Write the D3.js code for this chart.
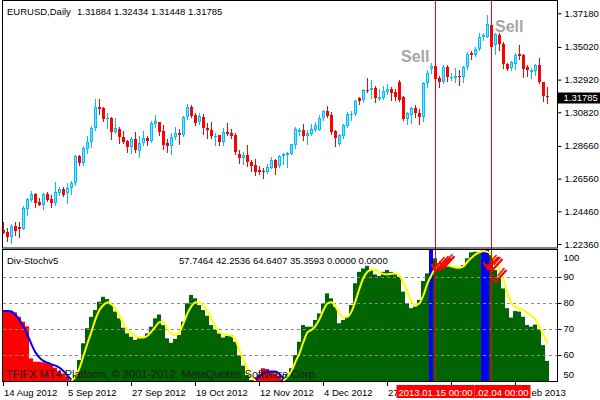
<!DOCTYPE html>
<html><head><meta charset="utf-8">
<script src="https://cdn.jsdelivr.net/npm/d3@7"></script>
<style>html,body{margin:0;padding:0;background:#fff;}svg{display:block;font-family:"Liberation Sans",Arial,sans-serif;}</style>
</head><body><div id="chart"></div>
<script>
// ---- price data (EURUSD daily, bars 0..136) ----
const openP = [1.2326,1.2313,1.2283,1.2352,1.2347,1.2334,1.2463,1.2519,1.2557,1.2506,1.2488,1.2557,1.2527,1.2497,1.2562,1.2591,1.2562,1.2596,1.2626,1.2801,
1.2754,1.2848,1.2889,1.2983,1.3118,1.3109,1.3040,1.3045,1.2955,1.2972,1.2921,1.2895,1.2861,1.2908,1.2835,1.2883,1.2917,1.2895,1.3006,1.3019,
1.2963,1.2883,1.2865,1.2921,1.2951,1.2938,1.3049,1.3118,1.3066,1.3017,1.3051,1.2983,1.2970,1.2927,1.2936,1.2893,1.2953,1.2949,1.2936,1.2812,
1.2786,1.2807,1.2764,1.2743,1.2713,1.2705,1.2696,1.2726,1.2773,1.2739,1.2803,1.2807,1.2816,1.2872,1.2953,1.2966,1.2931,1.2944,1.2970,1.2970,
1.3043,1.3090,1.3064,1.2961,1.2880,1.2931,1.2996,1.3064,1.3069,1.3171,1.3159,1.3227,1.3223,1.3239,1.3167,1.3171,1.3214,1.3231,1.3210,1.3276,
1.3182,1.3040,1.3066,1.3109,1.3079,1.3053,1.3268,1.3358,1.3379,1.3302,1.3276,1.3370,1.3302,1.3302,1.3315,1.3310,1.3370,1.3464,1.3448,1.3486,
1.3567,1.3567,1.3642,1.3514,1.3578,1.3518,1.3390,1.3364,1.3394,1.3454,1.3449,1.3372,1.3342,1.3347,1.3385,1.3274,1.31884];
const highP = [1.2377,1.2339,1.2364,1.2377,1.2377,1.2480,1.2531,1.2578,1.2565,1.2531,1.2565,1.2570,1.2553,1.2634,1.2604,1.2604,1.2626,1.2642,1.2806,1.2809,
1.2865,1.2929,1.2994,1.3165,1.3165,1.3114,1.3079,1.3049,1.3045,1.2985,1.2963,1.2904,1.2925,1.2955,1.2929,1.2960,1.2929,1.3024,1.3066,1.3022,
1.2998,1.2908,1.2951,1.2989,1.2972,1.3058,1.3135,1.3127,1.3075,1.3077,1.3069,1.3013,1.3021,1.2949,1.2938,1.2979,1.3013,1.2974,1.2949,1.2838,
1.2829,1.2872,1.2777,1.2782,1.2735,1.2722,1.2752,1.2795,1.2782,1.2807,1.2820,1.2825,1.2880,1.2987,1.2979,1.3005,1.2966,1.3005,1.3021,1.3064,
1.3098,1.3120,1.3082,1.2966,1.2940,1.3005,1.3085,1.3090,1.3162,1.3180,1.3231,1.3300,1.3291,1.3248,1.3231,1.3248,1.3265,1.3244,1.3231,1.3289,
1.3185,1.3083,1.3114,1.3130,1.3101,1.3276,1.3353,1.3396,1.3396,1.3315,1.3387,1.3387,1.3332,1.3366,1.3353,1.3379,1.3469,1.3477,1.3499,1.3589,
1.3589,1.3706,1.3650,1.3589,1.3589,1.3535,1.3396,1.3411,1.3464,1.3514,1.3454,1.3385,1.3368,1.3390,1.3428,1.3278,1.32434];
const lowP = [1.2305,1.2257,1.2244,1.2296,1.2283,1.2332,1.2424,1.2514,1.2472,1.2485,1.2459,1.2514,1.2476,1.2485,1.2553,1.2544,1.2497,1.2557,1.2617,1.2745,
1.2745,1.2822,1.2861,1.2970,1.3073,1.3024,1.2981,1.2912,1.2947,1.2883,1.2883,1.2827,1.2818,1.2827,1.2797,1.2874,1.2870,1.2891,1.2985,1.2934,
1.2848,1.2827,1.2814,1.2912,1.2878,1.2929,1.3040,1.3049,1.2998,1.3008,1.2944,1.2915,1.2918,1.2872,1.2872,1.2872,1.2938,1.2915,1.2812,1.2756,
1.2752,1.2735,1.2705,1.2679,1.2687,1.2658,1.2694,1.2722,1.2684,1.2730,1.2748,1.2730,1.2812,1.2854,1.2936,1.2906,1.2876,1.2936,1.2962,1.2966,
1.3034,1.3051,1.2944,1.2867,1.2872,1.2918,1.2987,1.3034,1.3064,1.3137,1.3150,1.3214,1.3175,1.3150,1.3162,1.3167,1.3201,1.3159,1.3159,1.3154,
1.3035,1.3006,1.3011,1.3053,1.3006,1.3028,1.3246,1.3332,1.3246,1.3246,1.3272,1.3281,1.3289,1.3276,1.3255,1.3276,1.3361,1.3422,1.3443,1.3481,
1.3546,1.3567,1.3500,1.3454,1.3482,1.3364,1.3353,1.3353,1.3360,1.3424,1.3308,1.3317,1.3304,1.3321,1.3270,1.3154,1.31448];
const closeP = [1.2309,1.2283,1.2352,1.2321,1.2334,1.2467,1.2525,1.2557,1.2501,1.2488,1.2557,1.2519,1.2497,1.2570,1.2591,1.2553,1.2596,1.2630,1.2801,1.2754,
1.2852,1.2891,1.2983,1.3116,1.3105,1.3040,1.3045,1.2955,1.2981,1.2921,1.2891,1.2861,1.2908,1.2840,1.2883,1.2917,1.2895,1.3015,1.3028,1.2955,
1.2874,1.2865,1.2921,1.2951,1.2938,1.3049,1.3118,1.3058,1.3011,1.3060,1.2979,1.2966,1.2927,1.2931,1.2893,1.2953,1.2940,1.2931,1.2825,1.2786,
1.2807,1.2764,1.2739,1.2700,1.2700,1.2696,1.2730,1.2773,1.2726,1.2803,1.2816,1.2820,1.2876,1.2974,1.2970,1.2931,1.2949,1.2974,1.3000,1.3043,
1.3090,1.3060,1.2957,1.2918,1.2936,1.3000,1.3069,1.3073,1.3154,1.3154,1.3227,1.3218,1.3239,1.3175,1.3180,1.3218,1.3231,1.3205,1.3180,1.3161,
1.3040,1.3075,1.3109,1.3075,1.3053,1.3268,1.3332,1.3379,1.3297,1.3276,1.3370,1.3310,1.3310,1.3315,1.3306,1.3370,1.3456,1.3448,1.3486,1.3563,
1.3578,1.3647,1.3503,1.3582,1.3520,1.3390,1.3360,1.3403,1.3449,1.3441,1.3360,1.3355,1.3351,1.3385,1.3274,1.3184,1.31785];

// ---- indicator (Div-Stochv5) ----
const redHistA = [77.3,77.3,77,76.4,74.7,72.8,71,58.7,57.4,57.4,57.2,56.8,56.2,55.1,53.8,52.9,51.6,50.3]; // bars 0-17
const redHistB = [51.3,52.6,54.9,54.6,53.6,52.9,52]; // bars 63-69
const greenHistA = [52.3,58.1,64.5,70.3,74.7,77.3,80.5,82.4,81.5,79.5,76.7,74.1,70.5,68.3,67.0,65.8,66.4,66.7,68.3,70.9,
74.1,75.6,71.5,66.4,64.7,66.2,67.7,72.8,79.9,83.1,81.8,79.2,77.3,75.1,71.5,69.6,68.3,66.7,67.4,67.7,65.1,60,55.9,52.3,50.4]; // bars 18-62
const greenHistB = [50.8,52.3,54.9,60,65.1,71.5,70.9,70.9,73.5,76.0,79.9,83.7,81.8,78.6,72.2,73.5,74.7,79.2,87.6,92.0,
93.3,94.3,92.7,91.0,90.4,92.0,92.7,92.0,91.4,90.1,84.4,79.9,78.0,78.6,81.2,88.5,91.4,null,97.2,95.3,
94.3,94.3,94.0,93.6,93.6,94.6,97.2,99.5,99.7,99.7,null,null,98.5,92.7,89.5,85.6,78.0,74.4,76.9,76.7,
74.7,71.5,70.9,71.7,69.6,63.8,57.7]; // bars 70-136
const blueBars = [107,120,121];
const blueBarValue = 100.4;
const blueLineA = [76.9,76.9,76.7,75.4,73.5,70.9,67.7,64.1,61,59,57.7,57,56.4,55.9,55.1,53.8,52,50.4]; // bars 0-17
const blueLineB = [50.4,51.7,53,53.6,53.6,53.6,52.6,51.0,49.7]; // bars 63-71
const yellowA = [50.0,51.7,54.9,59.7,64.5,69,73.8,77.3,79.2,80.3,79.5,77.7,75.1,71.8,69.6,68.3,67.3,66.8,66.7,67.4,
69,70.9,72.6,72.6,70,68.1,67.6,68.7,72.2,76,78.8,80.3,80.3,79,76.9,73.8,70.9,68.7,68,67.7,67.4,65.8,61.5,58.1,54.6,51.7,50.0]; // bars 17-63
const yellowB = [50.0,51.7,53.8,57.4,60.6,65.1,68.7,69.6,71.2,73.8,77.3,79.9,80.3,78.6,76,74.5,74.7,76.7,80.8,85.6,
89.7,92,92.8,92.7,91.8,91.2,91.0,91.3,91.4,90.5,87.6,84,80.5,79.2,79.9,83.1,87.6,90.8,93.3,94.4,
94.6,94.4,94.1,93.7,93.6,94.1,95.9,97.4,98.7,99.5,100,99.7,98.5,95.3,92.7,88.8,83.7,79.9,78.3,78,
77.3,76,75.1,73.5,70.9,67.7,64.6]; // bars 70-136
const levels = [60,70,80,90];
const levelLabels = [100,90,80,70,60,50];
const sellArrows = [[108,92.3],[109,92.7],[110,93.4],[121,93.1],[122,92.3],[123,88.1]];

// ---- axes / labels ----
const priceTicks = [1.37180,1.35020,1.32920,1.30820,1.28660,1.26560,1.24460,1.22360];
// date labels as visible in the chart (the last two are partly covered by the event boxes)
const dateTickIdx = [0,16,32,48,64,80,96,112,128];
const dateTickLabels = ["14 Aug 2012","5 Sep 2012","27 Sep 2012","19 Oct 2012","12 Nov 2012","4 Dec 2012","27","","eb 2013"];
const eventIdx = [108,122];
const eventLabels = ["2013.01.15 00:00",".02.04 00:00"];
const sellLabels = [[99.5,1.3408,"Sell"],[123,1.3601,"Sell"]];
const titleText = "EURUSD,Daily";
const titleValues = "1.31884 1.32434 1.31448 1.31785";
const indName = "Div-Stochv5";
const indValues = "57.7464 42.2536 64.6407 35.3593 0.0000 0.0000";
const copyright = "TFIFX MT4 Platform, \u00A9 2001-2012, MetaQuotes Software Corp.";

const W = 600, H = 400;
const FS = "9.5px";
const svg = d3.select("#chart").append("svg").attr("width", W).attr("height", H);
svg.append("rect").attr("width", W).attr("height", H).attr("fill", "#fff");

const n = closeP.length;
const x = d3.scaleLinear().domain([0, n - 1]).range([3, 3 + 4 * (n - 1)]);
const yP = d3.scaleLinear().domain([1.22103, 1.37906]).range([248, 2]);
const yI = d3.scaleLinear().domain([49.6, 100.4]).range([382, 250]);

const defs = svg.append("defs");
defs.append("clipPath").attr("id", "cm").append("rect").attr("x", 3).attr("y", 1).attr("width", 554).attr("height", 247);
defs.append("clipPath").attr("id", "ci").append("rect").attr("x", 3).attr("y", 250).attr("width", 554).attr("height", 131.5);

// ---- main panel candles ----
const gm = svg.append("g").attr("clip-path", "url(#cm)");
const bull = "#00BFFF", bullFill = "#8fd8ff", bear = "#FF0000";
d3.range(n).forEach(i => {
  const o = openP[i], c = closeP[i], h = highP[i], l = lowP[i];
  const up = c >= o;
  const col = up ? bull : bear;
  const cx = x(i);
  gm.append("line").attr("x1", cx + 0.5).attr("x2", cx + 0.5)
    .attr("y1", Math.round(yP(h))).attr("y2", Math.round(yP(l)) + 1)
    .attr("stroke", col).attr("stroke-width", 1);
  const top = Math.round(yP(Math.max(o, c)));
  const bot = Math.round(yP(Math.min(o, c)));
  const hh = Math.max(bot - top, 1);
  if (up && hh > 2) {
    gm.append("rect").attr("x", cx - 0.5).attr("y", top + 0.5).attr("width", 2).attr("height", hh - 1)
      .attr("fill", bullFill).attr("stroke", bull).attr("stroke-width", 1);
  } else {
    gm.append("rect").attr("x", cx - 1).attr("y", top).attr("width", 3).attr("height", hh).attr("fill", col);
  }
});

// ---- indicator histogram ----
const gi = svg.append("g").attr("clip-path", "url(#ci)");
function bars(vals, start, color) {
  vals.forEach((v, k) => {
    if (v == null) return;
    const i = start + k;
    gi.append("rect").attr("x", x(i) - 2).attr("width", 4)
      .attr("y", yI(v)).attr("height", Math.max(0, yI.range()[0] - yI(v)))
      .attr("fill", color);
  });
}
bars(redHistA, 0, "#FF0000");
bars(redHistB, 63, "#FF0000");
bars(greenHistA, 18, "#006400");
bars(greenHistB, 70, "#006400");
blueBars.forEach(i => {
  gi.append("rect").attr("x", x(i) - 2).attr("width", 4).attr("y", yI(blueBarValue))
    .attr("height", yI.range()[0] - yI(blueBarValue)).attr("fill", "#0000FF");
});

// level lines
levels.forEach(v => {
  gi.append("line").attr("x1", 3).attr("x2", 557).attr("y1", Math.round(yI(v)) + 0.5).attr("y2", Math.round(yI(v)) + 0.5)
    .attr("stroke", "#8a8a8a").attr("stroke-width", 1).attr("stroke-dasharray", "3,3");
});

// signal lines
function sig(vals, start, color) {
  const line = d3.line().x((d, k) => x(start + k) + 0.5).y(d => yI(d)).curve(d3.curveMonotoneX);
  gi.append("path").attr("d", line(vals)).attr("fill", "none").attr("stroke", color).attr("stroke-width", 2);
}
sig(blueLineA, 0, "#0000FF");
sig(blueLineB, 63, "#0000FF");
sig(yellowA, 17, "#FFFF00");
sig(yellowB, 70, "#FFFF00");

// sell arrows in indicator
sellArrows.forEach(([i, v]) => {
  const px = x(i) + 0.5, py = yI(v);
  gi.append("path").attr("d", `M${px - 4},${py - 7} L${px},${py} L${px + 11},${py - 12}`)
    .attr("fill", "none").attr("stroke", "#FF0000").attr("stroke-width", 2.2).attr("stroke-linejoin", "miter");
  gi.append("path").attr("d", `M${px + 2},${py - 6} L${px + 9},${py - 14}`)
    .attr("fill", "none").attr("stroke", "#FF0000").attr("stroke-width", 1.5);
});

// ---- vertical event lines (through both panels) ----
eventIdx.forEach(i => {
  svg.append("line").attr("x1", x(i) + 0.5).attr("x2", x(i) + 0.5).attr("y1", 0).attr("y2", 382)
    .attr("stroke", "#FF0000").attr("stroke-width", 1);
});

// ---- Sell texts ----
sellLabels.forEach(([i, p, t]) => {
  svg.append("text").attr("x", x(i)).attr("y", yP(p)).attr("font-size", "16px").attr("font-weight", "bold")
    .attr("fill", "#a6a6a6").text(t);
});

// ---- frames ----
svg.append("rect").attr("x", 2.5).attr("y", 0.5).attr("width", 555).attr("height", 247.5)
  .attr("fill", "none").attr("stroke", "#000").attr("stroke-width", 1);
svg.append("rect").attr("x", 2.5).attr("y", 249.5).attr("width", 555).attr("height", 132)
  .attr("fill", "none").attr("stroke", "#000").attr("stroke-width", 1);

// ---- right price axis ----
const ax = svg.append("g").attr("transform", "translate(557.5,0)")
  .call(d3.axisRight(yP).tickValues(priceTicks).tickSize(4).tickSizeOuter(0).tickFormat(d3.format(".5f")));
ax.select(".domain").remove();
ax.selectAll("line").attr("stroke", "#000");
ax.selectAll("text").attr("font-size", FS).attr("font-family", "Liberation Sans, Arial, sans-serif").attr("fill", "#000");

// current price box
const last = closeP[n - 1];
svg.append("rect").attr("x", 558).attr("y", Math.round(yP(last)) - 4.5).attr("width", 42).attr("height", 11).attr("fill", "#000");
svg.append("text").attr("x", 563.5).attr("y", Math.round(yP(last)) + 4).attr("font-size", FS).attr("fill", "#fff").text(d3.format(".5f")(last));

// indicator axis
levels.forEach(v => {
  svg.append("line").attr("x1", 557.5).attr("x2", 561.5).attr("y1", Math.round(yI(v)) + 0.5).attr("y2", Math.round(yI(v)) + 0.5).attr("stroke", "#000");
});
levelLabels.forEach(v => {
  const yy = Math.min(375, Math.max(257.5, yI(v)));
  svg.append("text").attr("x", 563.5).attr("y", yy).attr("dy", "0.33em").attr("font-size", FS).attr("fill", "#000").text(v);
});

// ---- date axis ----
dateTickIdx.forEach((i, k) => {
  svg.append("line").attr("x1", x(i) + 0.5).attr("x2", x(i) + 0.5).attr("y1", 382).attr("y2", 386).attr("stroke", "#000");
  const lab = dateTickLabels[k];
  if (!lab) return;
  const lx = (k === dateTickIdx.length - 1) ? x(eventIdx[1]) + 40.5 : x(i) + 1;
  svg.append("text").attr("x", lx).attr("y", 395.5).attr("font-size", FS).attr("fill", "#000").text(lab);
});
// event labels: first box fully visible, second box shows the part right of the first one
{
  const c0 = x(eventIdx[0]) + 0.5, c1 = x(eventIdx[1]) + 0.5;
  svg.append("rect").attr("x", c0 + 39).attr("y", 385).attr("width", (c1 + 39) - (c0 + 39)).attr("height", 13).attr("fill", "#FF0000");
  svg.append("text").attr("x", c1 + 37).attr("y", 395.5).attr("text-anchor", "end").attr("font-size", FS).attr("fill", "#fff").text(eventLabels[1]);
  svg.append("rect").attr("x", c0 - 39).attr("y", 385).attr("width", 78).attr("height", 13).attr("fill", "#FF0000");
  svg.append("text").attr("x", c0).attr("y", 395.5).attr("text-anchor", "middle").attr("font-size", FS).attr("fill", "#fff").text(eventLabels[0]);
}

// ---- texts ----
svg.append("text").attr("x", 7).attr("y", 14.5).attr("font-size", FS).attr("fill", "#000").text(titleText);
svg.append("text").attr("x", 77).attr("y", 14.5).attr("font-size", FS).attr("fill", "#000").text(titleValues);
svg.append("text").attr("x", 7).attr("y", 264).attr("font-size", FS).attr("fill", "#000").text(indName);
svg.append("text").attr("x", 179).attr("y", 264).attr("font-size", FS).attr("fill", "#000").text(indValues);
svg.append("text").attr("x", 6).attr("y", 378).attr("font-size", "11px").attr("fill", "#1a1a1a").text(copyright);
</script></body></html>
